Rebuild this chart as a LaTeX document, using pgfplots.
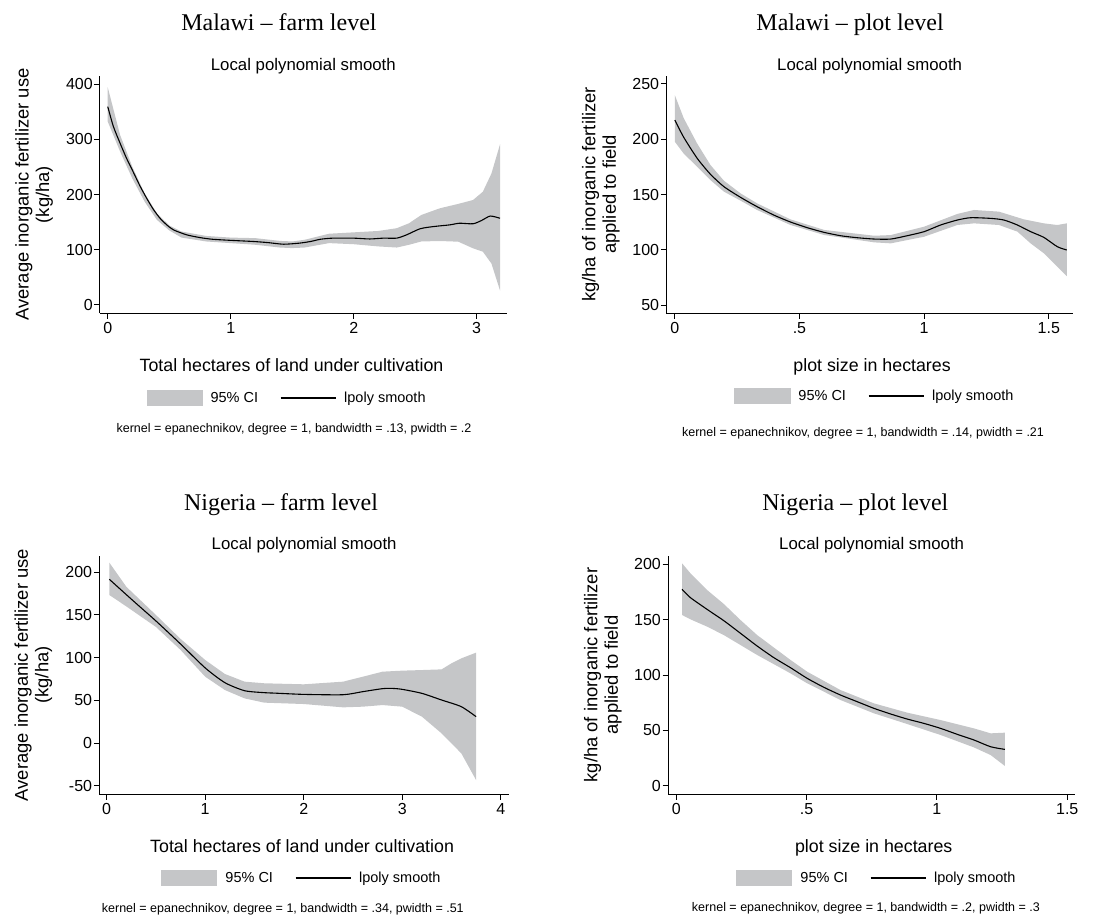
\documentclass[border=0pt]{standalone}
\usepackage{fontspec}
\setmainfont{Liberation Sans}
\newfontfamily\seriffont{Liberation Serif}
\usepackage{pgfplots}
\pgfplotsset{compat=1.18}
\definecolor{cifill}{RGB}{197,198,200}
\newcommand\fticks{\fontsize{16}{19}\selectfont}
\newcommand\flab{\fontsize{17.8}{21}\selectfont}
\newcommand\fylab{\fontsize{18.4}{20.5}\selectfont}
\newcommand\fsub{\fontsize{16.8}{20}\selectfont}
\newcommand\ftitle{\seriffont\fontsize{24}{28}\selectfont}
\newcommand\fleg{\fontsize{14.5}{17}\selectfont}
\newcommand\fnote{\fontsize{12.5}{15}\selectfont}
\pgfplotsset{
  stata/.style={
    scale only axis, anchor=south west, clip mode=individual,
    axis x line*=bottom, axis y line*=left,
    axis line style={-, line width=1pt, black},
    tick align=outside, major tick length=5.5pt,
    tick style={line width=1pt, black},
    xticklabel style={font=\fticks, inner sep=1pt, yshift=-3pt},
    yticklabel style={font=\fticks, inner sep=1.5pt},
    legend columns=2,
    legend style={draw=none, fill=none, inner sep=0pt, font=\fleg,
      /tikz/every odd column/.append style={column sep=6pt},
      /tikz/every even column/.append style={column sep=20pt},
      anchor=center},
    legend cell align=left,
  },
  ciarea/.style={fill=cifill, draw=none, area legend,
    legend image code/.code={\fill[cifill] (0pt,-8.3pt) rectangle (56pt,8.3pt);}},
  smline/.style={black, line width=1.1pt, no marks, smooth, tension=0.4,
    legend image code/.code={\draw[black, line width=1.1pt] (0pt,0pt) -- (55pt,0pt);}},
}
\begin{document}
\begin{tikzpicture}
\useasboundingbox (0,0) rectangle (1114pt,-917pt);

% ---------- Malawi farm level ----------
\begin{axis}[stata, at={(100pt,-313pt)}, width=406.7pt, height=237pt,
  xmin=-0.063, xmax=3.244, ymin=-14.5, ymax=414.5,
  xtick={0,1,2,3}, xticklabels={0,1,2,3},
  ytick={0,100,200,300,400}, yticklabels={0,100,200,300,400},
  legend style={at={(0.46,-0.3586)}}]
\addplot[ciarea] coordinates {
(0,394) (0.1,308) (0.2,250) (0.3,202) (0.4,166) (0.5,144) (0.6,133) (0.8,125) (1.0,122) (1.2,121) (1.4,116) (1.5,115) (1.6,118) (1.8,129) (2.0,131.5) (2.2,134) (2.35,139) (2.45,148) (2.55,163) (2.7,175) (2.85,183) (2.97,190) (3.05,205) (3.12,238) (3.19,291)
(3.19,26) (3.12,75) (3.05,96.5) (2.97,102.6) (2.85,114.6) (2.7,115.8) (2.55,115) (2.45,109) (2.35,104) (2.2,106) (2.0,110) (1.8,112) (1.6,104) (1.5,103) (1.4,104) (1.2,109) (1.0,112) (0.8,115) (0.6,122) (0.5,135) (0.4,154) (0.3,187) (0.2,229) (0.1,278) (0,332)
} -- cycle;
\addlegendentry{95\% CI}
\addplot[smline] coordinates {
(0,359) (0.046,323) (0.1,293) (0.154,265) (0.209,240) (0.263,215) (0.317,193) (0.371,173) (0.425,157) (0.48,145) (0.534,136) (0.642,127) (0.75,122) (0.85,119) (1.0,117) (1.18,115) (1.3,113) (1.43,110) (1.56,112) (1.65,115) (1.73,119) (1.83,121) (2.0,121) (2.13,119.5) (2.24,121) (2.35,121) (2.43,127) (2.54,138) (2.65,142) (2.78,145) (2.86,148) (2.97,147) (3.04,153) (3.11,161) (3.19,157)
};
\addlegendentry{lpoly smooth}
\node[anchor=base, font=\ftitle] at (axis description cs:0.44,1.194) {Malawi – farm level};
\node[anchor=base, font=\fsub] at (axis description cs:0.5,1.0253) {Local polynomial smooth};
\node[anchor=base, font=\flab] at (axis description cs:0.471,-0.247) {Total hectares of land under cultivation};
\node[rotate=90, align=center, font=\fylab] at (axis description cs:-0.1623,0.5) {Average inorganic fertilizer use\\(kg/ha)};
\node[anchor=base, font=\fnote] at (axis description cs:0.477,-0.506) {kernel = epanechnikov, degree = 1, bandwidth = .13, pwidth = .2};
\end{axis}

% ---------- Malawi plot level ----------
\begin{axis}[stata, at={(666.3pt,-313pt)}, width=406.7pt, height=237pt,
  xmin=-0.034, xmax=1.597, ymin=42.8, ymax=257.2,
  xtick={0,0.5,1,1.5}, xticklabels={0,.5,1,1.5},
  ytick={50,100,150,200,250}, yticklabels={50,100,150,200,250},
  legend style={at={(0.5132,-0.350)}}]
\addplot[ciarea] coordinates {
(0,240) (0.036,219) (0.09,196) (0.143,176.7) (0.197,162.5) (0.264,151) (0.33,142) (0.464,127.5) (0.6,117.9) (0.8,112.7) (0.866,113.3) (1.0,120.9) (1.133,132.4) (1.2,136) (1.3,134.5) (1.4,127.5) (1.48,123.9) (1.534,122.4) (1.572,123.9)
(1.572,76.2) (1.534,84.7) (1.48,96.8) (1.427,105.8) (1.374,116.4) (1.3,122.4) (1.2,123.9) (1.133,122.4) (1.0,111.8) (0.866,105.8) (0.8,106.7) (0.6,113.3) (0.464,122.4) (0.33,136) (0.264,144.4) (0.197,152.6) (0.143,163) (0.09,175) (0.036,187) (0,197.8)
} -- cycle;
\addlegendentry{95\% CI}
\addplot[smline] coordinates {
(0,217.4) (0.036,201.7) (0.09,182.7) (0.143,168.3) (0.197,157.1) (0.264,147.4) (0.33,139) (0.397,131.4) (0.464,125.1) (0.531,120) (0.598,115.8) (0.665,112.7) (0.732,110.9) (0.8,109.7) (0.866,109.7) (0.932,112.7) (1.0,116.4) (1.066,122.4) (1.133,126.9) (1.187,129) (1.267,128.4) (1.32,126.9) (1.374,122.4) (1.427,116.4) (1.48,111.2) (1.534,102.8) (1.572,99.8)
};
\addlegendentry{lpoly smooth}
\node[anchor=base, font=\ftitle] at (axis description cs:0.452,1.194) {Malawi – plot level};
\node[anchor=base, font=\fsub] at (axis description cs:0.5,1.0253) {Local polynomial smooth};
\node[anchor=base, font=\flab] at (axis description cs:0.506,-0.247) {plot size in hectares};
\node[rotate=90, align=center, font=\fylab] at (axis description cs:-0.1606,0.5) {kg/ha of inorganic fertilizer\\applied to field};
\node[anchor=base, font=\fnote] at (axis description cs:0.4837,-0.523) {kernel = epanechnikov, degree = 1, bandwidth = .14, pwidth = .21};
\end{axis}

% ---------- Nigeria farm level ----------
\begin{axis}[stata, at={(99.3pt,-794pt)}, width=409.7pt, height=238pt,
  xmin=-0.075, xmax=4.084, ymin=-59.7, ymax=219.1,
  xtick={0,1,2,3,4}, xticklabels={0,1,2,3,4},
  ytick={-50,0,50,100,150,200}, yticklabels={-50,0,50,100,150,200},
  legend style={at={(0.4948,-0.353)}}]
\addplot[ciarea] coordinates {
(0.027,211.3) (0.2,183) (0.5,150) (0.75,122) (1.0,97.3) (1.2,80.9) (1.4,71.9) (1.6,70) (2.0,68.8) (2.4,71.9) (2.6,77.7) (2.8,83.6) (3.0,84.8) (3.2,85.5) (3.4,86.3) (3.5,93.4) (3.6,99.2) (3.75,105.9)
(3.75,-43.4) (3.6,-12.1) (3.5,-0.4) (3.4,11.3) (3.2,30.9) (3.0,42.6) (2.8,44.5) (2.6,42.6) (2.4,41.8) (2.0,45.7) (1.6,47.3) (1.4,52.3) (1.2,62.1) (1.0,77.7) (0.75,109) (0.5,136) (0.2,160) (0.027,173.4)
} -- cycle;
\addlegendentry{95\% CI}
\addplot[smline] coordinates {
(0.027,191.8) (0.27,166.5) (0.5,143) (0.75,116) (1.0,88) (1.2,70.7) (1.4,61.3) (1.6,59) (1.7,58.5) (2.0,57) (2.4,56.6) (2.6,60.2) (2.8,63.7) (2.9,64) (3.0,62.9) (3.2,58.2) (3.4,50.4) (3.6,42.6) (3.75,30.9)
};
\addlegendentry{lpoly smooth}
\node[anchor=base, font=\ftitle] at (axis description cs:0.4435,1.193) {Nigeria – farm level};
\node[anchor=base, font=\fsub] at (axis description cs:0.5,1.027) {Local polynomial smooth};
\node[anchor=base, font=\flab] at (axis description cs:0.495,-0.246) {Total hectares of land under cultivation};
\node[rotate=90, align=center, font=\fylab] at (axis description cs:-0.161,0.5) {Average inorganic fertilizer use\\(kg/ha)};
\node[anchor=base, font=\fnote] at (axis description cs:0.448,-0.496) {kernel = epanechnikov, degree = 1, bandwidth = .34, pwidth = .51};
\end{axis}

% ---------- Nigeria plot level ----------
\begin{axis}[stata, at={(668pt,-794pt)}, width=407.3pt, height=238pt,
  xmin=-0.032, xmax=1.531, ymin=-7.5, ymax=207.5,
  xtick={0,0.5,1,1.5}, xticklabels={0,.5,1,1.5},
  ytick={0,50,100,150,200}, yticklabels={0,50,100,150,200},
  legend style={at={(0.5131,-0.353)}}]
\addplot[ciarea] coordinates {
(0.022,200.9) (0.054,191.9) (0.118,176.8) (0.182,164.2) (0.246,149.7) (0.31,136.1) (0.438,113.6) (0.502,103) (0.63,86.4) (0.758,74.4) (0.886,66) (1.014,59.3) (1.142,51.8) (1.206,47.3) (1.261,47.9)
(1.261,17.8) (1.206,27.7) (1.142,34.6) (1.014,45.8) (0.886,55.7) (0.758,65.4) (0.63,77.4) (0.502,92.5) (0.438,101.5) (0.31,118.1) (0.246,127.1) (0.182,136.1) (0.118,143.7) (0.054,150.3) (0.022,154.2)
} -- cycle;
\addlegendentry{95\% CI}
\addplot[smline] coordinates {
(0.022,177.4) (0.054,169.9) (0.118,159.3) (0.182,149.1) (0.246,137.7) (0.31,126.2) (0.374,115.7) (0.438,106.6) (0.502,97) (0.566,88.9) (0.63,81.9) (0.694,75.9) (0.758,69.9) (0.822,64.8) (0.886,60.2) (0.95,56.3) (1.014,51.8) (1.078,46.4) (1.142,41.3) (1.206,35.2) (1.261,32.8)
};
\addlegendentry{lpoly smooth}
\node[anchor=base, font=\ftitle] at (axis description cs:0.46,1.193) {Nigeria – plot level};
\node[anchor=base, font=\fsub] at (axis description cs:0.5,1.027) {Local polynomial smooth};
\node[anchor=base, font=\flab] at (axis description cs:0.505,-0.246) {plot size in hectares};
\node[rotate=90, align=center, font=\fylab] at (axis description cs:-0.160,0.5) {kg/ha of inorganic fertilizer\\applied to field};
\node[anchor=base, font=\fnote] at (axis description cs:0.486,-0.4916) {kernel = epanechnikov, degree = 1, bandwidth = .2, pwidth = .3};
\end{axis}
\end{tikzpicture}
\end{document}
